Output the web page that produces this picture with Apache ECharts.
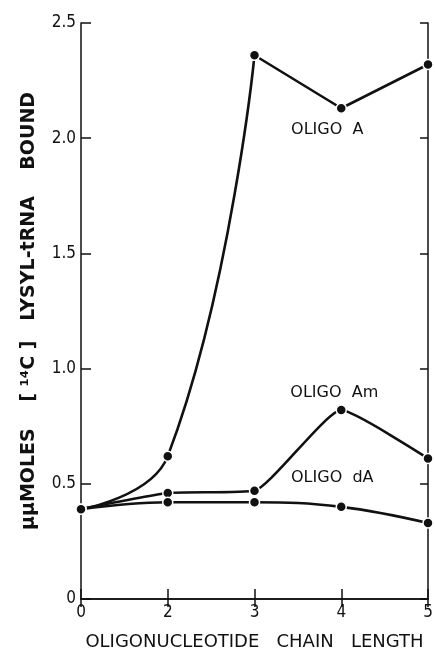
<!DOCTYPE html>
<html>
<head>
<meta charset="utf-8">
<script src="https://cdn.jsdelivr.net/npm/echarts@6/dist/echarts.min.js"></script>
<style>
  html, body { margin: 0; padding: 0; background: #fff; }
  #chart { width: 435px; height: 653px; }
</style>
</head>
<body>
<div id="chart"></div>
<script>
// chain lengths (plotted evenly spaced, as in the figure)
var chainLength = ['0', '2', '3', '4', '5'];
var oligoA  = [0.39, 0.62, 2.36, 2.13, 2.32];
var oligoAm = [0.39, 0.46, 0.47, 0.82, 0.61];
var oligoDA = [0.39, 0.42, 0.42, 0.40, 0.33];

var ink = '#111';
var font = 'DejaVu Sans Condensed, DejaVu Sans';
var wide = 'DejaVu Sans';

// split oligo A at length 3: the rise is a curve, the rest straight
var aRise = oligoA.map(function (v, i) { return i <= 2 ? v : null; });
var aTop = oligoA.map(function (v, i) { return i >= 2 ? v : null; });

function lineSeries(name, data, smooth, label) {
    var s = {
        name: name,
        type: 'line',
        data: data,
        smooth: smooth,
        symbol: 'circle',
        symbolSize: 10,
        connectNulls: false,
        lineStyle: { color: ink, width: 2.6 },
        itemStyle: { color: ink, borderColor: '#fff', borderWidth: 1.5 },
        emphasis: { disabled: true },
        z: 3
    };
    if (label) {
        s.label = {
            show: true,
            formatter: function (p) { return p.dataIndex === 3 ? label.text : ''; },
            color: ink,
            fontFamily: wide,
            fontSize: 16,
            offset: label.offset,
            position: 'inside'
        };
    }
    return s;
}

var chart = echarts.init(document.getElementById('chart'));
chart.setOption({
    animation: false,
    grid: { left: 81, right: 7, top: 23, bottom: 54, containLabel: false, outerBoundsMode: 'none' },
    xAxis: [
        {
            type: 'category',
            data: chainLength,
            boundaryGap: false,
            name: 'OLIGONUCLEOTIDE   CHAIN   LENGTH',
            nameLocation: 'middle',
            nameGap: 34,
            nameTextStyle: { color: ink, fontFamily: wide, fontSize: 18 },
            axisLine: { lineStyle: { color: ink, width: 1.5 } },
            axisTick: { inside: true, length: 10, lineStyle: { color: ink, width: 1.5 } },
            axisLabel: { color: ink, fontFamily: font, fontSize: 17, margin: 5 },
            splitLine: { show: false }
        },
        {
            type: 'category',
            data: chainLength,
            boundaryGap: false,
            position: 'top',
            axisLine: { lineStyle: { color: ink, width: 1.5 } },
            axisTick: { inside: true, length: 8, lineStyle: { color: ink, width: 1.5 } },
            axisLabel: { show: false },
            splitLine: { show: false }
        }
    ],
    yAxis: [
        {
            type: 'value',
            min: 0,
            max: 2.5,
            interval: 0.5,
            name: 'μμMOLES    [ ¹⁴C ]   LYSYL-tRNA    BOUND',
            nameLocation: 'middle',
            nameGap: 42,
            nameTextStyle: { color: ink, fontFamily: wide, fontSize: 19, fontWeight: 'bold' },
            axisLine: { show: true, lineStyle: { color: ink, width: 1.5 } },
            axisTick: { show: true, inside: true, length: 10, lineStyle: { color: ink, width: 1.5 } },
            axisLabel: {
                color: ink, fontFamily: font, fontSize: 17, margin: 5,
                formatter: function (v) { return v === 0 ? '0' : v.toFixed(1); }
            },
            splitLine: { show: false }
        },
        {
            type: 'value',
            min: 0,
            max: 2.5,
            interval: 0.5,
            position: 'right',
            axisLine: { show: true, lineStyle: { color: ink, width: 1.5 } },
            axisTick: { show: true, inside: true, length: 8, lineStyle: { color: ink, width: 1.5 } },
            axisLabel: { show: false },
            splitLine: { show: false }
        }
    ],
    series: [
        lineSeries('OLIGO A rise', aRise, 0.45, null),
        lineSeries('OLIGO A', aTop, false, { text: 'OLIGO  A', offset: [-14, 22] }),
        lineSeries('OLIGO Am', oligoAm, 0.15, { text: 'OLIGO  Am', offset: [-7, -17] }),
        lineSeries('OLIGO dA', oligoDA, 0.4, { text: 'OLIGO  dA', offset: [-9, -29] })
    ]
});
</script>
</body>
</html>
